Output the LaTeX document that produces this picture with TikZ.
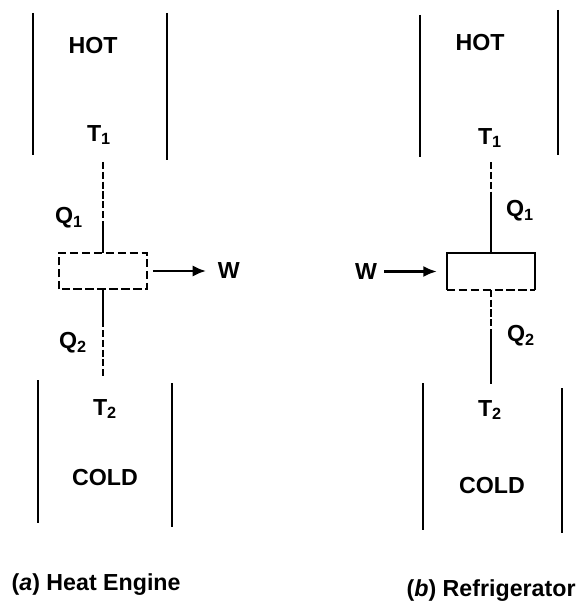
\documentclass[tikz,border=0pt]{standalone}
\usepackage{fontspec}
\setmainfont{Liberation Sans}
\usetikzlibrary{arrows.meta,positioning}

\begin{document}
\begin{tikzpicture}[x=0.025cm,y=-0.025cm,>={Latex[length=3.4mm,width=2.8mm]},
  font=\fontsize{16.5}{20}\selectfont\bfseries]
  \tikzstyle{wall}=[line width=1.6pt]
  \tikzstyle{link}=[line width=1.6pt]
  \tikzstyle{broken}=[dash pattern=on 6pt off 2.5pt]
  \tikzstyle{gappy}=[dash pattern=on 5pt off 2pt]
  \tikzstyle{plant}=[minimum width=2.2cm,minimum height=0.9cm,inner sep=0pt]
  \tikzstyle{lbl}=[inner sep=1pt]
  \useasboundingbox (0,0) rectangle (580,610);
  % reservoir walls
  \foreach \x/\ya/\yb in {33/13/155,167/13/160,38/380/523,172/383/527,
                          420/15/157,558/10/155,423/383/530,562/388/533}
    \draw[wall] (\x,\ya) -- (\x,\yb);
  % (a) heat engine
  \node[lbl] (hotA) at (93,46) {HOT};
  \node[lbl] (tA1) at (99,135) {T\textsubscript{1}};
  \node[plant] (engA) at (103,271) {};
  \node[lbl] (tA2) at (105,409) {T\textsubscript{2}};
  \node[lbl] (coldA) at (105,478) {COLD};
  \node[lbl,right=1.72cm of engA] (wA) {W};
  \node[lbl] (qA1) at (69,218) {Q\textsubscript{1}};
  \node[lbl] (qA2) at (73,343) {Q\textsubscript{2}};
  \coordinate (kA1) at (103,225);
  \coordinate (kA2) at (103,320);
  \draw[link,broken] (engA.south west) rectangle (engA.north east);
  \draw[link,gappy,shorten <=11pt] (tA1.south -| engA) -- (kA1);
  \draw[link] (kA1) -- (engA.north);
  \draw[link] (engA.south) -- (kA2);
  \draw[link,gappy,shorten >=13.5pt] (kA2) -- (tA2.north -| engA);
  \draw[->,line width=2pt,shorten <=4pt,shorten >=7pt] (engA) -- (wA);
  \node[lbl,anchor=west] (capA) at (10,585) {(\textit{a}) Heat Engine};
  % (b) refrigerator
  \node[lbl] (hotB) at (480,43) {HOT};
  \node[lbl] (tB1) at (490,138) {T\textsubscript{1}};
  \node[plant] (fridge) at (491,271.5) {};
  \node[lbl] (tB2) at (490,410) {T\textsubscript{2}};
  \node[lbl] (coldB) at (492,486) {COLD};
  \node[lbl,left=1.7cm of fridge] (wB) {W};
  \node[lbl] (qB1) at (520,211) {Q\textsubscript{1}};
  \node[lbl] (qB2) at (521,336) {Q\textsubscript{2}};
  \coordinate (kB1) at (491,197);
  \coordinate (kB2) at (491,330);
  \draw[link] (fridge.south west) -- (fridge.north west) -- (fridge.north east) -- (fridge.south east);
  \draw[link,broken] (fridge.south west) -- (fridge.south east);
  \draw[link,gappy,shorten <=9pt] (tB1.south -| fridge) -- (kB1);
  \draw[link] (kB1) -- (fridge.north);
  \draw[link,gappy] (fridge.south) -- (kB2);
  \draw[link,shorten >=10.5pt] (kB2) -- (tB2.north -| fridge);
  \draw[->,line width=2pt,shorten <=4pt,shorten >=7pt] (wB) -- (fridge);
  \node[lbl,anchor=west] (capB) at (405,591) {(\textit{b}) Refrigerator};
\end{tikzpicture}
\end{document}
